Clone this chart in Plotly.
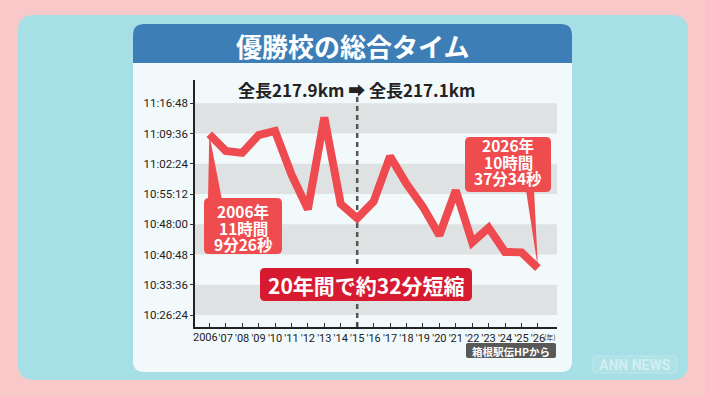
import plotly.graph_objects as go

# ---------------- data ----------------
years = [2006, 2007, 2008, 2009, 2010, 2011, 2012, 2013, 2014, 2015, 2016,
         2017, 2018, 2019, 2020, 2021, 2022, 2023, 2024, 2025, 2026]
x_labels = ["2006", "'07", "'08", "'09", "'10", "'11", "'12", "'13", "'14", "'15", "'16",
            "'17", "'18", "'19", "'20", "'21", "'22", "'23", "'24", "'25", "'26"]
winning_times = ["11:09:26", "11:05:29", "11:05:00", "11:09:14", "11:10:13", "10:59:51",
                 "10:51:36", "11:13:26", "10:52:51", "10:49:27", "10:53:25", "11:04:10",
                 "10:57:39", "10:52:09", "10:45:23", "10:56:04", "10:43:42", "10:47:11",
                 "10:41:25", "10:41:19", "10:37:34"]
y_tick_labels = ["10:26:24", "10:33:36", "10:40:48", "10:48:00",
                 "10:55:12", "11:02:24", "11:09:36", "11:16:48"]
course_change_year = 2015
title_text = "優勝校の総合タイム"
course_text = "全長217.9km ➡ 全長217.1km"
summary_text = "20年間で約32分短縮"
first_label = ["2006年", "11時間", "9分26秒"]
last_label = ["2026年", "10時間", "37分34秒"]
source_text = "箱根駅伝HPから"


def to_sec(t):
    h, m, s = map(int, t.split(":"))
    return h * 3600 + m * 60 + s


y_vals = [to_sec(t) for t in winning_times]
tick_vals = [to_sec(t) for t in y_tick_labels]

# ---------------- geometry ----------------
W, H = 705, 397
PL, PR, PT, PB = 195, 557, 80, 327
XR = [2005.13, 2027.16]
YR = [37413, 40941]

FONT = "Noto Sans CJK JP"


def xp(px):
    return (px - PL) / (PR - PL)


def yp(py):
    return (PB - py) / (PB - PT)


def dx(x):
    return (x - XR[0]) / (XR[1] - XR[0])


def dy(y):
    return (y - YR[0]) / (YR[1] - YR[0])


def P(px, py):
    return f"{xp(px):.5f},{yp(py):.5f}"


def rrect(x0, y0, x1, y1, r, top_only=False):
    rb = 0 if top_only else r
    return (f"M {P(x0 + r, y0)} L {P(x1 - r, y0)} Q {P(x1, y0)} {P(x1, y0 + r)} "
            f"L {P(x1, y1 - rb)} Q {P(x1, y1)} {P(x1 - rb, y1)} "
            f"L {P(x0 + rb, y1)} Q {P(x0, y1)} {P(x0, y1 - rb)} "
            f"L {P(x0, y0 + r)} Q {P(x0, y0)} {P(x0 + r, y0)} Z")


shapes = []


def paper_path(path, fill, layer="below", line=None):
    d = dict(type="path", xref="paper", yref="paper", path=path,
             fillcolor=fill, layer=layer, line=dict(width=0))
    if line:
        d["line"] = line
    shapes.append(d)


# page panels
paper_path(rrect(18, 15, 688, 380, 16), "#a6dfe5")
paper_path(rrect(133, 24, 572, 372, 11), "#f2f9fb")
paper_path(rrect(133, 24, 572, 63, 11, top_only=True), "#3d7eb7")
# watermark
paper_path(rrect(593, 356, 677, 373, 3), "rgba(255,255,255,0.10)",
           line=dict(width=1, color="rgba(255,255,255,0.25)"))

# gray bands
for i in range(0, len(tick_vals) - 1, 2):
    lo, hi = tick_vals[i], tick_vals[i + 1]
    shapes.append(dict(type="rect", xref="paper", yref="y", x0=0, x1=1,
                       y0=lo, y1=hi, fillcolor="#dfe2e2", line=dict(width=0),
                       layer="below"))

# course change dashed line
shapes.append(dict(type="line", xref="x", yref="paper", x0=course_change_year,
                   x1=course_change_year, y0=0, y1=yp(96),
                   line=dict(color="#555555", width=2.5, dash="5px,4px"),
                   layer="below"))

# callouts
RED = "#ef4c50"
# 2006
ax0 = dx(years[0])
ay0 = dy(y_vals[0])
shapes.append(dict(type="path", xref="paper", yref="paper", layer="above",
                   path=f"M {ax0:.5f},{ay0:.5f} L {P(222, 200)} L {P(208, 200)} Z",
                   fillcolor=RED, line=dict(width=0)))
paper_path(rrect(204, 198, 282, 254, 5), RED, layer="above")
# 2026
ax1 = dx(years[-1])
ay1 = dy(y_vals[-1])
shapes.append(dict(type="path", xref="paper", yref="paper", layer="above",
                   path=f"M {ax1:.5f},{ay1:.5f} L {P(526, 190)} L {P(534, 190)} Z",
                   fillcolor=RED, line=dict(width=0)))
paper_path(rrect(465, 137, 551, 192, 5), RED, layer="above")
# summary box
paper_path(rrect(260, 268, 472, 301, 5), "#d71a30", layer="above")
# source box
paper_path(rrect(466, 343, 556, 358, 2), "#585858", layer="above")

annotations = []


def ann(px, py, text, size, color, bold=False, xanchor="center", family=FONT):
    annotations.append(dict(xref="paper", yref="paper", x=xp(px), y=yp(py),
                            text=text, showarrow=False, xanchor=xanchor,
                            yanchor="middle",
                            font=dict(family=family, size=size, color=color,
                                      weight="bold" if bold else "normal")))


ann(352.5, 45, title_text, 26, "white", bold=True)
ann(356, 89, course_text, 17, "#222222", bold=True)
for t, py in zip(first_label, [211, 227.5, 243.5]):
    ann(243, py, t, 15.5, "white", bold=True)
for t, py in zip(last_label, [145, 161.5, 178]):
    ann(508, py, t, 15.5, "white", bold=True)
ann(366, 284.5, summary_text, 21, "white", bold=True)
ann(511, 351.5, source_text, 10.5, "white", bold=True)
ann(550, 337, "(年)", 7, "#333333")
ann(635, 364.5, "ANN NEWS", 14, "rgba(255,255,255,0.45)", bold=True, family="Roboto")
# first year label placed slightly left, as in the original
annotations.append(dict(xref="x", yref="paper", x=years[0], y=yp(337),
                        xshift=-4, text=x_labels[0], showarrow=False,
                        xanchor="center", yanchor="middle",
                        font=dict(family="Roboto", size=11, color="#222222")))

fig = go.Figure()
fig.add_trace(go.Scatter(x=years, y=y_vals, mode="lines",
                         line=dict(color="#ee4a4f", width=8, shape="linear"),
                         hoverinfo="skip"))

fig.update_layout(
    width=W, height=H,
    margin=dict(l=PL, r=W - PR, t=PT, b=H - PB, autoexpand=False),
    paper_bgcolor="#f9c8c8",
    plot_bgcolor="rgba(0,0,0,0)",
    showlegend=False,
    shapes=shapes,
    annotations=annotations,
    xaxis=dict(range=XR, tickvals=years, ticktext=[""] + x_labels[1:], showgrid=False,
               zeroline=False, showline=True, linecolor="#222222", linewidth=1.5,
               ticks="inside", ticklen=4, tickcolor="#333333", tickwidth=1,
               tickangle=0, automargin=False,
               tickfont=dict(family="Roboto", size=11, color="#222222")),
    yaxis=dict(range=YR, tickvals=tick_vals, ticktext=y_tick_labels, showgrid=False,
               zeroline=False, showline=True, linecolor="#222222", linewidth=1.5,
               ticks="outside", ticklen=3, tickcolor="#333333", tickwidth=1,
               automargin=False,
               tickfont=dict(family="Roboto", size=11.5, color="#222222")),
)

fig.write_html("out.html",
               config={"displayModeBar": False},
               post_script="document.body.style.margin='0px';"
                           "document.body.style.background='#f9c8c8';")
